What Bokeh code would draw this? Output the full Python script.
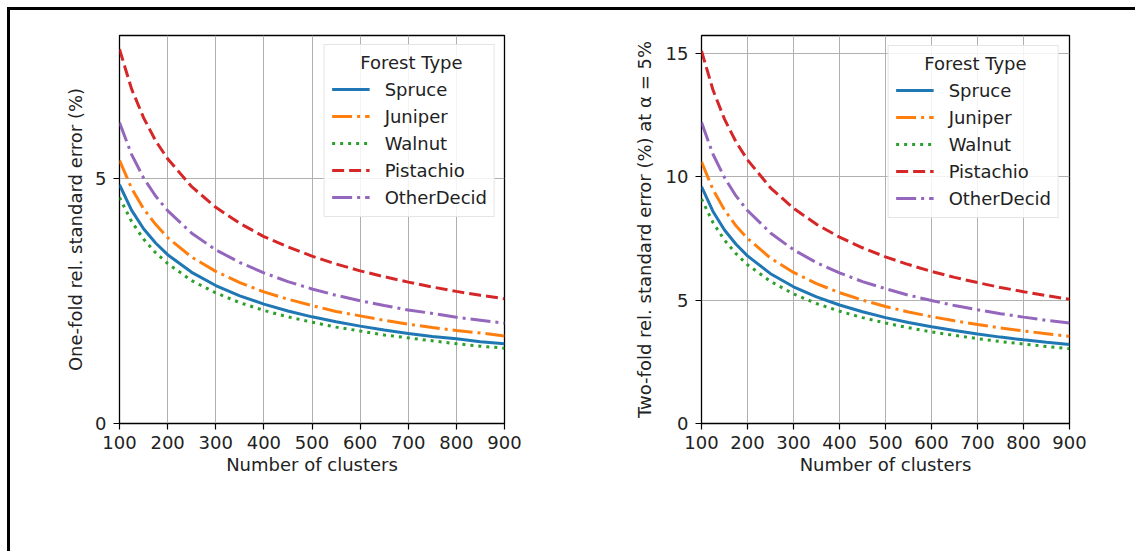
from bokeh.plotting import figure
from bokeh.layouts import row
from bokeh.models import FixedTicker, Range1d
from bokeh.embed import file_html
from bokeh.resources import INLINE

# ---------------- data ----------------
clusters = [100, 125, 150, 175, 200, 250, 300, 350, 400, 450, 500, 550, 600, 650, 700, 750, 800, 850, 900]

series_names = ["Spruce", "Juniper", "Walnut", "Pistachio", "OtherDecid"]

one_spruce = [4.88, 4.36, 3.98, 3.69, 3.45, 3.09, 2.82, 2.61, 2.44, 2.30, 2.18, 2.08, 1.99, 1.91, 1.84, 1.78, 1.73, 1.67, 1.63]
one_juniper = [5.38, 4.81, 4.39, 4.07, 3.80, 3.40, 3.11, 2.88, 2.69, 2.54, 2.41, 2.29, 2.20, 2.11, 2.03, 1.96, 1.90, 1.85, 1.79]
one_walnut = [4.62, 4.13, 3.77, 3.49, 3.27, 2.92, 2.67, 2.47, 2.31, 2.18, 2.07, 1.97, 1.89, 1.81, 1.75, 1.69, 1.63, 1.58, 1.54]
one_pistachio = [7.65, 6.84, 6.25, 5.78, 5.41, 4.84, 4.42, 4.09, 3.82, 3.61, 3.42, 3.26, 3.12, 3.00, 2.89, 2.79, 2.70, 2.62, 2.55]
one_otherdecid = [6.15, 5.50, 5.02, 4.65, 4.35, 3.89, 3.55, 3.29, 3.08, 2.90, 2.75, 2.62, 2.51, 2.41, 2.32, 2.25, 2.17, 2.11, 2.05]

two_spruce = [9.60, 8.59, 7.84, 7.26, 6.79, 6.07, 5.54, 5.13, 4.80, 4.53, 4.29, 4.09, 3.92, 3.77, 3.63, 3.50, 3.39, 3.29, 3.20]
two_juniper = [10.60, 9.48, 8.65, 8.01, 7.50, 6.70, 6.12, 5.67, 5.30, 5.00, 4.74, 4.52, 4.33, 4.16, 4.01, 3.87, 3.75, 3.64, 3.53]
two_walnut = [9.10, 8.14, 7.43, 6.88, 6.43, 5.76, 5.25, 4.86, 4.55, 4.29, 4.07, 3.88, 3.71, 3.57, 3.44, 3.32, 3.22, 3.12, 3.03]
two_pistachio = [15.10, 13.51, 12.33, 11.41, 10.68, 9.55, 8.72, 8.07, 7.55, 7.12, 6.75, 6.44, 6.16, 5.92, 5.71, 5.51, 5.34, 5.18, 5.03]
two_otherdecid = [12.20, 10.91, 9.96, 9.22, 8.63, 7.72, 7.04, 6.52, 6.10, 5.75, 5.46, 5.20, 4.98, 4.78, 4.61, 4.45, 4.31, 4.18, 4.07]

x_ticks = [100, 200, 300, 400, 500, 600, 700, 800, 900]
left_y_ticks = [0, 5]
right_y_ticks = [0, 5, 10, 15]

x_label = "Number of clusters"
left_y_label = "One-fold rel. standard error (%)"
right_y_label = "Two-fold rel. standard error (%) at \u03b1 = 5%"
legend_title = "Forest Type"

# ---------------- styles ----------------
colors = ["#1f77b4", "#ff7f0e", "#2ca02c", "#d62728", "#9467bd"]
dashes = ["solid", "20 5 3 5", "3 5", "12 5", "20 5 3 5"]
FONT = "DejaVu Sans"
FS = "18px"


def make_plot(width, height, bl, br, bt, bb, ymax, yticks, ylabel, ys, ylab_standoff, lg_margin):
    p = figure(width=width, height=height, output_backend="svg", toolbar_location=None,
               x_range=Range1d(100, 900), y_range=Range1d(0, ymax),
               min_border_left=bl, min_border_right=br, min_border_top=bt, min_border_bottom=bb)
    p.outline_line_color = "black"
    p.outline_line_width = 1.3
    p.outline_line_alpha = 1
    p.background_fill_color = "white"
    p.border_fill_color = "white"

    for ax in (p.xaxis[0], p.yaxis[0]):
        ax.axis_line_color = None
        ax.major_tick_line_color = "black"
        ax.major_tick_line_width = 1.2
        ax.major_tick_out = 6
        ax.major_tick_in = 0
        ax.minor_tick_line_color = None
        ax.major_label_text_font = FONT
        ax.major_label_text_font_size = FS
        ax.major_label_text_color = "#222222"
        ax.axis_label_text_font = FONT
        ax.axis_label_text_font_size = FS
        ax.axis_label_text_font_style = "normal"
        ax.axis_label_text_color = "#222222"

    p.xaxis.ticker = FixedTicker(ticks=x_ticks)
    p.yaxis.ticker = FixedTicker(ticks=yticks)
    p.xaxis.axis_label = x_label
    p.yaxis.axis_label = ylabel
    p.xaxis.major_label_standoff = 6
    p.xaxis.axis_label_standoff = 2
    p.yaxis.major_label_standoff = 7
    p.yaxis.axis_label_standoff = ylab_standoff

    p.grid.grid_line_color = "#b0b0b0"
    p.grid.grid_line_width = 1
    p.grid.grid_line_alpha = 1

    for name, y, c, d in zip(series_names, ys, colors, dashes):
        p.line(clusters, y, line_color=c, line_width=3, line_dash=d, legend_label=name)

    lg = p.legend[0]
    lg.title = "\u00a0\u00a0\u00a0\u00a0\u00a0" + legend_title
    lg.title_text_font = FONT
    lg.title_text_font_size = FS
    lg.title_text_font_style = "normal"
    lg.title_text_color = "#222222"
    lg.title_standoff = 4
    lg.label_text_font = FONT
    lg.label_text_font_size = FS
    lg.label_text_color = "#222222"
    lg.location = "top_right"
    lg.margin = lg_margin
    lg.padding = 7
    lg.spacing = 3
    lg.label_height = 24
    lg.glyph_height = 24
    lg.glyph_width = 38
    lg.label_standoff = 15
    lg.border_line_color = "#cccccc"
    lg.border_line_width = 1
    lg.background_fill_alpha = 0.85
    return p


p1 = make_plot(590, 541, 109, 96, 19, 128, 7.93, left_y_ticks, left_y_label,
               [one_spruce, one_juniper, one_walnut, one_pistachio, one_otherdecid], 6, 9)
p2 = make_plot(535, 541, 101, 66, 25, 128, 15.72, right_y_ticks, right_y_label,
               [two_spruce, two_juniper, two_walnut, two_pistachio, two_otherdecid], 8, 10)

layout = row(p1, p2, margin=(7, 0, 0, 7),
             styles={"border-left": "3px solid black", "border-top": "3px solid black"})

open("out.html", "w").write(file_html(layout, INLINE))
